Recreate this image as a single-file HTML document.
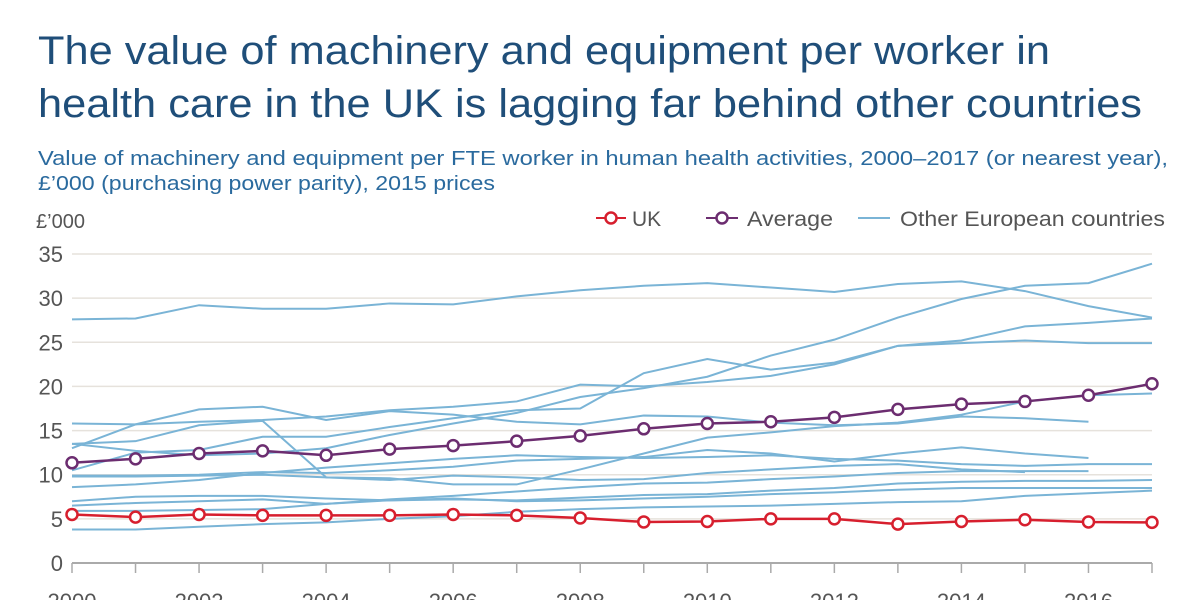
<!DOCTYPE html>
<html><head><meta charset="utf-8"><style>
html,body{margin:0;padding:0;background:#fff;}
svg{display:block;font-family:"Liberation Sans",sans-serif;}
</style></head><body>
<svg id="chart" width="1200" height="600">
<text x="38" y="64" font-size="40" fill="#1f4e79" textLength="1012" lengthAdjust="spacingAndGlyphs">The value of machinery and equipment per worker in</text>
<text x="38" y="117" font-size="40" fill="#1f4e79" textLength="1104" lengthAdjust="spacingAndGlyphs">health care in the UK is lagging far behind other countries</text>
<text x="38" y="165" font-size="20" fill="#2a6a9e" textLength="1130" lengthAdjust="spacingAndGlyphs">Value of machinery and equipment per FTE worker in human health activities, 2000–2017 (or nearest year),</text>
<text x="38" y="190" font-size="20" fill="#2a6a9e" textLength="457" lengthAdjust="spacingAndGlyphs">£’000 (purchasing power parity), 2015 prices</text>
<text x="36" y="228" font-size="20" fill="#555">£’000</text>
<g>
<line x1="596" y1="218" x2="626" y2="218" stroke="#d71f2e" stroke-width="2"/>
<circle cx="611" cy="218" r="5.5" fill="#fff" stroke="#d71f2e" stroke-width="2.5"/>
<text x="632" y="226" font-size="21" fill="#555">UK</text>
<line x1="706" y1="218" x2="738" y2="218" stroke="#6c2d70" stroke-width="2"/>
<circle cx="722" cy="218" r="5.5" fill="#fff" stroke="#6c2d70" stroke-width="2.5"/>
<text x="747" y="226" font-size="21" fill="#555" textLength="86" lengthAdjust="spacingAndGlyphs">Average</text>
<line x1="858" y1="218" x2="890" y2="218" stroke="#7ab4d6" stroke-width="2"/>
<text x="900" y="226" font-size="21" fill="#555" textLength="265" lengthAdjust="spacingAndGlyphs">Other European countries</text>
</g>
<g id="grid"></g><g id="others"></g><g id="main"></g><g id="axes"></g>
</svg>
<script>
const years=[2000,2001,2002,2003,2004,2005,2006,2007,2008,2009,2010,2011,2012,2013,2014,2015,2016,2017];
const yTicks=[0,5,10,15,20,25,30,35];
const xTickLabels=[2000,2002,2004,2006,2008,2010,2012,2014,2016];
const uk=[5.5,5.2,5.5,5.4,5.4,5.4,5.5,5.4,5.1,4.65,4.7,5.0,5.0,4.4,4.7,4.9,4.65,4.6];
const avg=[11.35,11.8,12.4,12.7,12.2,12.9,13.3,13.8,14.4,15.2,15.8,16.0,16.5,17.4,18.0,18.3,19.0,20.3];
const oA=[27.6,27.7,29.2,28.8,28.8,29.4,29.3,30.2,30.9,31.4,31.7,31.2,30.7,31.6,31.9,30.8,29.1,27.8];
const oB=[10.5,12.5,12.8,14.3,14.3,15.4,16.4,17.3,17.5,21.5,23.1,21.9,22.7,24.6,25.2,26.8,27.2,27.7];
const oC=[15.8,15.7,16.0,16.2,16.6,17.3,17.7,18.3,20.2,20.0,20.5,21.2,22.5,24.6,24.9,25.2,24.9,24.9];
const oD=[13.0,15.7,17.4,17.7,16.2,17.2,16.8,16.0,15.7,16.7,16.6,15.9,15.6,15.8,16.6,16.4,16.0,null];
const oE=[13.5,13.8,15.6,16.1,9.7,9.6,8.9,8.9,10.6,12.4,14.2,14.8,15.5,15.9,16.8,18.3,19.0,19.2];
const oF=[13.5,12.7,12.2,12.4,13.0,14.5,15.8,17.0,18.8,19.8,21.1,23.5,25.3,27.8,29.9,31.4,31.7,33.9];
const oG=[9.9,9.9,10.0,10.3,10.2,10.5,10.9,11.6,11.8,12.0,12.8,12.4,11.5,12.4,13.1,12.4,11.9,null];
const oH=[8.6,8.9,9.4,10.2,10.8,11.3,11.8,12.2,12.0,11.9,12.0,12.2,11.8,11.6,11.2,11.0,11.2,11.2];
const oI=[9.8,9.8,9.9,10.0,9.7,9.4,9.9,9.7,9.4,9.5,10.2,10.6,11.0,11.2,10.6,10.3,null,null];
const oJ=[7.0,7.5,7.6,7.6,7.3,7.1,7.2,7.1,7.4,7.7,7.8,8.2,8.5,9.0,9.2,9.3,9.3,9.4];
const oK=[6.5,6.8,7.0,7.2,6.7,7.2,7.6,8.1,8.6,9.0,9.1,9.5,9.8,10.2,10.4,10.4,10.4,null];
const oL=[5.9,5.9,6.0,6.1,6.7,7.1,7.3,7.0,7.1,7.3,7.5,7.8,8.0,8.3,8.5,8.5,8.5,8.5];
const oM=[3.8,3.8,4.1,4.4,4.6,5.0,5.3,5.8,6.1,6.3,6.4,6.5,6.7,6.9,7.0,7.6,7.9,8.2];
const others=[oA,oB,oC,oD,oE,oF,oG,oH,oI,oJ,oK,oL,oM];

const NS='http://www.w3.org/2000/svg';
const X0=72,X1=1152,Y0=563,Y1=254;
const xs=y=>X0+(y-2000)*(X1-X0)/17;
const ys=v=>Y0-v*(Y0-Y1)/35;
function mk(tag,attrs,parent){const e=document.createElementNS(NS,tag);for(const k in attrs)e.setAttribute(k,attrs[k]);parent.appendChild(e);return e;}
const grid=document.getElementById('grid'),axes=document.getElementById('axes');
yTicks.forEach(t=>{
  if(t>0){const g=mk('line',{x1:X0,x2:X1,y1:ys(t),y2:ys(t),stroke:'#e6e2dc','stroke-width':1.5},grid);
  
  }
  const tx=mk('text',{x:63,y:ys(t)+8,'font-size':22,fill:'#555','text-anchor':'end'},axes);
  tx.textContent=t;
  
  
});
const ax=mk('line',{x1:X0,x2:X1,y1:Y0,y2:Y0,stroke:'#aaa','stroke-width':2},axes);


years.forEach(y=>{const tk=mk('line',{x1:xs(y),x2:xs(y),y1:Y0,y2:Y0+10,stroke:'#aaa','stroke-width':1.5},axes);
  
  });
xTickLabels.forEach(y=>{const tx=mk('text',{x:xs(y),y:609,'font-size':22,fill:'#555','text-anchor':'middle'},axes);
  tx.textContent=y;
  
  });
function pts(arr){return arr.map((v,i)=>v==null?null:xs(years[i])+','+ys(v)).filter(p=>p).join(' ');}
const og=document.getElementById('others');
others.forEach((arr,i)=>{const p=mk('polyline',{points:pts(arr),fill:'none',stroke:'#7ab4d6','stroke-width':2},og);
  
  });
const mg=document.getElementById('main');
[[avg,'#6c2d70','average'],[uk,'#d71f2e','uk']].forEach(([arr,c,n])=>{
  const p=mk('polyline',{points:pts(arr),fill:'none',stroke:c,'stroke-width':2.5},mg);
  
  
  arr.forEach((v,i)=>{const m=mk('circle',{cx:xs(years[i]),cy:ys(v),r:5.5,fill:'#fff',stroke:c,'stroke-width':2.5},mg);
    
    });
});
</script>
</body></html>
